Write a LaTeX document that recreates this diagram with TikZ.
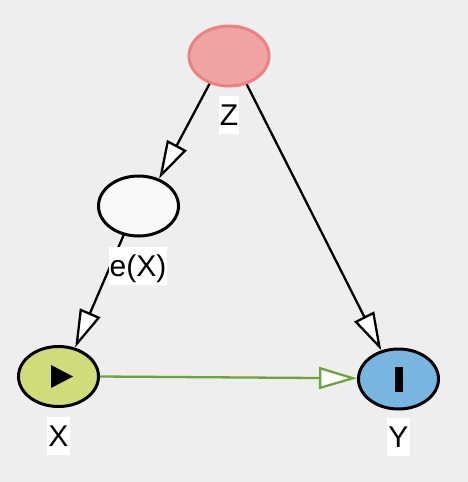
\documentclass[tikz,border=0pt]{standalone}
\usepackage{fontspec}
\setmainfont{Liberation Sans}
\usetikzlibrary{shapes.geometric,arrows.meta}
\definecolor{bg}{HTML}{EEEEEE}
\definecolor{zfill}{HTML}{F0A3A3}
\definecolor{zline}{HTML}{F08080}
\definecolor{efill}{HTML}{F9F9F9}
\definecolor{xfill}{HTML}{CFDC79}
\definecolor{yfill}{HTML}{78B5E0}
\definecolor{green}{HTML}{6BA539}
\tikzset{
  var/.style={ellipse, draw=black, line width=3pt, minimum width=80pt, minimum height=60pt, inner sep=0pt},
  lbl/.style={fill=white, inner xsep=1pt, inner ysep=2pt, text height=27pt, text depth=7pt, font=\fontsize{30}{36}\selectfont},
  edge/.style={draw=black, line width=2.3pt, -{Triangle[length=38pt, width=22pt, fill=white]}},
  gedge/.style={draw=green, line width=2.3pt, -{Triangle[length=38pt, width=22pt, fill=white]}}
}
\begin{document}
\begin{tikzpicture}[x=1pt, y=-1pt]
\fill[bg] (0,0) rectangle (468,482);
\useasboundingbox (0,0) rectangle (468,482);
\node[var, fill=zfill, draw=zline] (nz) at (229,56) {};
\node[var, fill=efill] (ne) at (138.5,206) {};
\node[var, fill=xfill] (nx) at (58.5,376.5) {};
\node[var, fill=yfill] (ny) at (398.5,379) {};
\fill ([shift={(-7.5,-11.5)}]nx.center) -- ([shift={(14.5,0)}]nx.center) -- ([shift={(-7.5,11.5)}]nx.center) -- cycle;
\fill ([shift={(-4,-12.5)}]ny.center) rectangle ([shift={(4,12.5)}]ny.center);
\draw[edge] (nz.235) -- (ne.53);
\draw[edge] (nz.302) -- (ny.121);
\draw[edge] (ne.243) -- (nx.60);
\draw[gedge] (nx.0) -- (ny.179);
\node[lbl] (lz) at (229,115) {Z};
\node[lbl] (le) at (138,266) {e(X)};
\node[lbl] (lx) at (58.5,436) {X};
\node[lbl] (ly) at (398.5,437) {Y};
\end{tikzpicture}
\end{document}
